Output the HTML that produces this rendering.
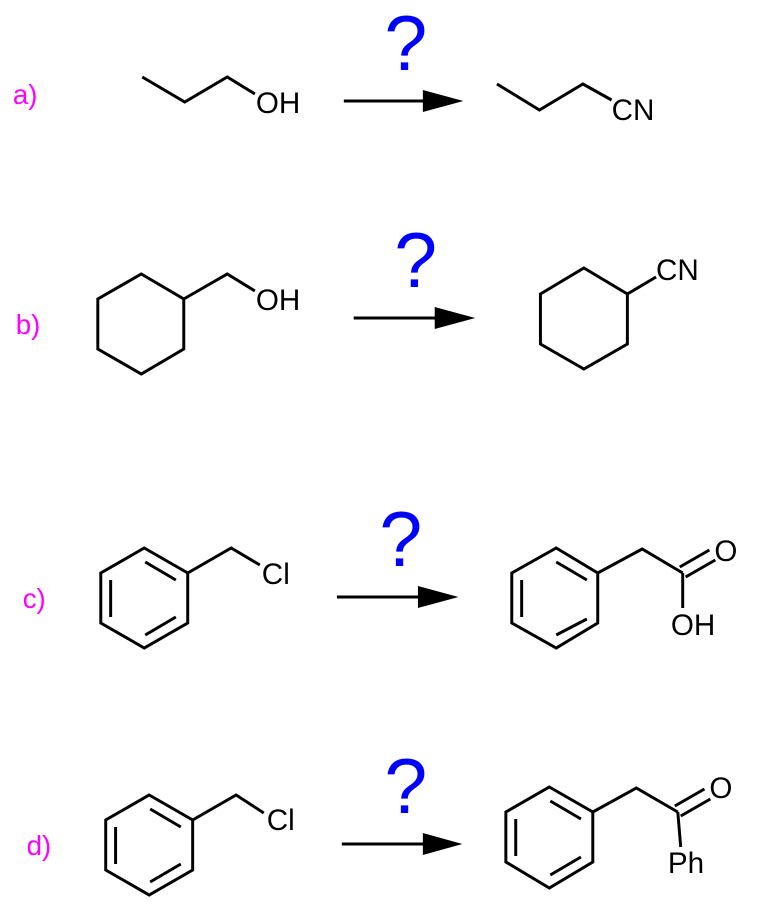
<!DOCTYPE html>
<html><head><meta charset="utf-8"><style>
html,body{margin:0;padding:0;background:#fff;}
svg{display:block;}
text{font-family:"Liberation Sans",Arial,sans-serif;}
.t{font-size:30px;fill:#000;}
.l{font-size:28px;fill:#ff00ff;}
.q{font-size:78px;fill:#0000ff;}
</style></head><body>
<svg width="758" height="911" viewBox="0 0 758 911" xmlns="http://www.w3.org/2000/svg">
<g transform="scale(0.988,1)" stroke="#000" stroke-width="3" fill="none" stroke-linejoin="miter">
<!-- a -->
<polyline points="144,77 187,102 230,77 258,94"/>
<line x1="348" y1="101" x2="435" y2="101"/>
<polygon points="428,90 469,101 428,112" fill="#000" stroke="none"/>
<polyline points="503,84 546,110 590,84 619,100"/>
<!-- b -->
<polygon points="143,274 186,299 186,349 143,374 99,349 99,299"/>
<polyline points="186,299 230,274 258,291"/>
<line x1="358" y1="318" x2="448" y2="318"/>
<polygon points="440,307 481,318 440,329" fill="#000" stroke="none"/>
<polygon points="591,268 635,294 635,344 591,369 547,344 547,294"/>
<line x1="635" y1="294" x2="664" y2="277"/>
<!-- c -->
<polygon points="146,548 190,573 190,623 146,648 102,623 102,573"/>
<line x1="147" y1="562" x2="178" y2="580"/>
<line x1="112" y1="580" x2="112" y2="617"/>
<line x1="147" y1="635" x2="178" y2="617"/>
<polyline points="190,573 234,548 263,565"/>
<line x1="341" y1="597" x2="430" y2="597"/>
<polygon points="423,586 464,597 423,608" fill="#000" stroke="none"/>
<polygon points="563,548 605,573 605,623 563,648 518,623 518,573"/>
<line x1="563" y1="562" x2="594" y2="580"/>
<line x1="528" y1="580" x2="528" y2="617"/>
<line x1="563" y1="635" x2="594" y2="619"/>
<polyline points="605,573 650,549 691,573"/>
<line x1="691" y1="573" x2="691" y2="608"/>
<line x1="688" y1="567" x2="718" y2="550"/>
<line x1="694" y1="577" x2="724" y2="560"/>
<!-- d -->
<polygon points="151,795 195,820 195,870 151,895 107,870 107,820"/>
<line x1="152" y1="809" x2="183" y2="827"/>
<line x1="117" y1="827" x2="117" y2="864"/>
<line x1="152" y1="882" x2="183" y2="864"/>
<polyline points="195,820 239,795 267,813"/>
<line x1="346" y1="844" x2="435" y2="844"/>
<polygon points="428,833 468,844 428,855" fill="#000" stroke="none"/>
<polygon points="556,787 600,812 600,862 556,888 512,862 512,812"/>
<line x1="557" y1="801" x2="588" y2="819"/>
<line x1="522" y1="819" x2="522" y2="856"/>
<line x1="557" y1="875" x2="588" y2="857"/>
<polyline points="600,812 644,788 686,812"/>
<line x1="686" y1="812" x2="689" y2="847"/>
<line x1="683" y1="806" x2="713" y2="789"/>
<line x1="689" y1="816" x2="719" y2="799"/>
</g>
<g transform="scale(0.988,1)">
<text class="l" x="13" y="104">a)</text>
<text class="q" x="389" y="70">?</text>
<text class="t" x="259" y="113">OH</text>
<text class="t" x="619" y="120">CN</text>
<text class="l" x="16" y="334">b)</text>
<text class="q" x="399" y="287">?</text>
<text class="t" x="259" y="310">OH</text>
<text class="t" x="664" y="280">CN</text>
<text class="l" x="23" y="608">c)</text>
<text class="q" x="384" y="566">?</text>
<text class="t" x="265" y="584">Cl</text>
<text class="t" x="723" y="561">O</text>
<text class="t" x="679" y="635">OH</text>
<text class="l" x="27" y="855">d)</text>
<text class="q" x="389" y="813">?</text>
<text class="t" x="270" y="830">Cl</text>
<text class="t" x="718" y="798">O</text>
<text class="t" x="676" y="873">Ph</text>
</g>
</svg>
</body></html>
